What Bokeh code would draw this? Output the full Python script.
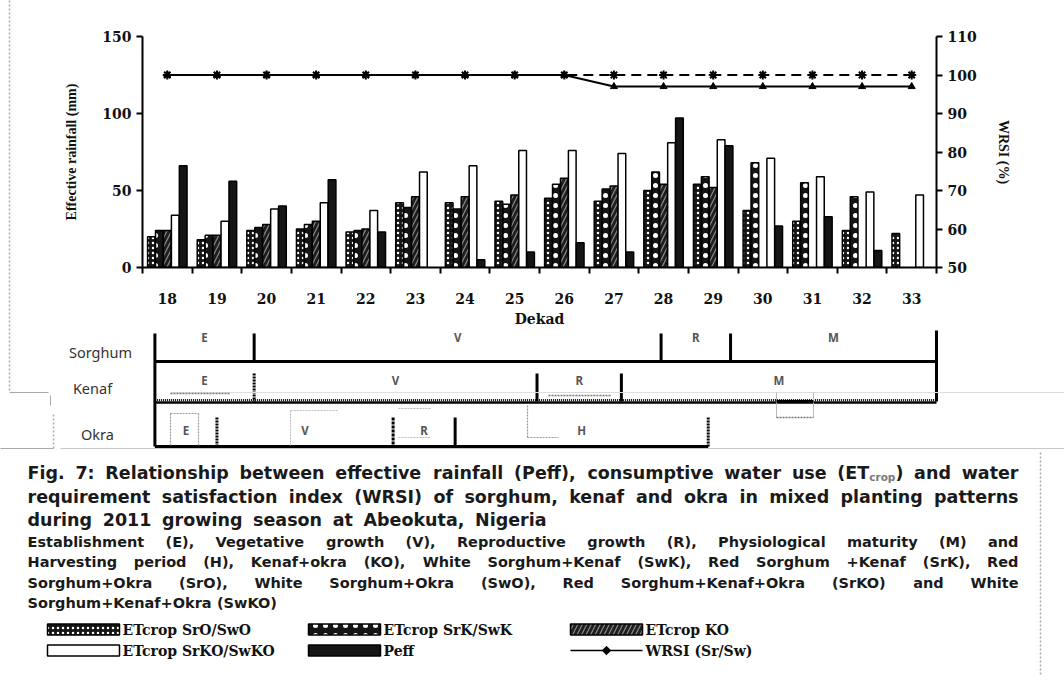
import numpy as np
from bokeh.plotting import figure
from bokeh.models import Range1d, LinearAxis, FixedTicker, ColumnDataSource
from bokeh.transform import dodge
from bokeh.embed import file_html
from bokeh.resources import INLINE
from bokeh.core.properties import value

# ---------------- data ----------------
dekads = [18, 19, 20, 21, 22, 23, 24, 25, 26, 27, 28, 29, 30, 31, 32, 33]
et_sro = [20, 18, 24, 25, 23, 42, 42, 43, 45, 43, 50, 54, 37, 30, 24, 22]
et_srk = [24, 21, 26, 28, 24, 39, 38, 41, 54, 51, 62, 59, 68, 55, 46, 0]
et_ko = [24, 21, 28, 30, 25, 46, 46, 47, 58, 53, 54, 52, 0, 0, 0, 0]
et_srko = [34, 30, 38, 42, 37, 62, 66, 76, 76, 74, 81, 83, 71, 59, 49, 47]
peff = [66, 56, 40, 57, 23, 0, 5, 10, 16, 10, 97, 79, 27, 33, 11, 0]
wrsi_sw = [100, 100, 100, 100, 100, 100, 100, 100, 100, 100, 100, 100, 100, 100, 100, 100]
wrsi_sr = [100, 100, 100, 100, 100, 100, 100, 100, 100, 97, 97, 97, 97, 97, 97, 97]
left_ticks = [0, 50, 100, 150]
right_ticks = [50, 60, 70, 80, 90, 100, 110]

sorghum_bounds = [17.75, 19.75, 27.95, 29.35, 33.5]
kenaf_bounds = [17.75, 19.75, 25.45, 27.15, 33.5]
okra_bounds = [17.75, 19.0, 22.55, 23.8, 28.9]
sorghum_stages = ["E", "V", "R", "M"]
kenaf_stages = ["E", "V", "R", "M"]
okra_stages = ["E", "V", "R", "H"]
crops = ["Sorghum", "Kenaf", "Okra"]

caption_main = [
    "Fig. 7: Relationship between effective rainfall (Peff), consumptive water use (ET_crop) and water",
    "requirement satisfaction index (WRSI) of sorghum, kenaf and okra in mixed planting patterns",
    "during 2011 growing season at Abeokuta, Nigeria",
]
caption_notes = [
    "Establishment (E), Vegetative growth (V), Reproductive growth (R), Physiological maturity (M) and",
    "Harvesting period (H), Kenaf+okra (KO), White Sorghum+Kenaf (SwK), Red Sorghum +Kenaf (SrK), Red",
    "Sorghum+Okra (SrO), White Sorghum+Okra (SwO), Red Sorghum+Kenaf+Okra (SrKO) and White",
    "Sorghum+Kenaf+Okra (SwKO)",
]
legend_labels = ["ETcrop SrO/SwO", "ETcrop SrK/SwK", "ETcrop KO",
                 "ETcrop SrKO/SwKO", "Peff", "WRSI (Sr/Sw)"]

# ---------------- figure ----------------
W, H = 1064, 681
L, R, T, B = 142, 936, 36, 267
OV = "overlay"

p = figure(width=W, height=H, x_range=Range1d(17.5, 33.5), y_range=Range1d(0, 150),
           output_backend="svg", toolbar_location=None,
           min_border_left=L, min_border_right=W - R, min_border_top=T, min_border_bottom=H - B)
p.outline_line_color = None
p.grid.visible = False
p.background_fill_color = "white"
p.border_fill_color = "white"
p.extra_y_ranges = {"wrsi": Range1d(50, 110), "py": Range1d(B, T)}
p.extra_x_ranges = {"px": Range1d(L, R)}

SERIF = "DejaVu Serif"
xa = p.xaxis[0]
xa.ticker = FixedTicker(ticks=dekads, minor_ticks=[d - 0.5 for d in dekads] + [dekads[-1] + 0.5])
xa.major_tick_out = 0
xa.major_tick_in = 0
xa.minor_tick_out = 6
xa.minor_tick_in = 0
xa.minor_tick_line_width = 2
xa.minor_tick_line_color = "black"
xa.axis_line_width = 2
xa.major_label_standoff = 19
xa.major_label_text_font = SERIF
xa.major_label_text_font_style = "bold"
xa.major_label_text_font_size = "14px"
xa.major_label_text_color = "#111"
xa.axis_label = "Dekad"
xa.axis_label_standoff = 4
xa.axis_label_text_font = SERIF
xa.axis_label_text_font_style = "bold"
xa.axis_label_text_font_size = "14px"
xa.axis_label_text_color = "#111"

ya = p.yaxis[0]
ya.ticker = FixedTicker(ticks=left_ticks)
ya.major_tick_out = 6
ya.major_tick_in = 0
ya.major_tick_line_width = 2
ya.minor_tick_out = 0
ya.minor_tick_in = 0
ya.axis_line_width = 2
ya.major_label_standoff = 5
ya.major_label_text_font = SERIF
ya.major_label_text_font_style = "bold"
ya.major_label_text_font_size = "14px"
ya.major_label_text_color = "#111"
ya.axis_label = "Effective rainfall (mm)"
ya.axis_label_standoff = 20
ya.axis_label_text_font = "Liberation Serif"
ya.axis_label_text_font_style = "bold"
ya.axis_label_text_font_size = "14px"
ya.axis_label_text_color = "#111"

ra = LinearAxis(y_range_name="wrsi", ticker=FixedTicker(ticks=right_ticks))
ra.major_tick_out = 6
ra.major_tick_in = 0
ra.major_tick_line_width = 2
ra.minor_tick_out = 0
ra.minor_tick_in = 0
ra.axis_line_width = 2
ra.major_label_standoff = 5
ra.major_label_text_font = SERIF
ra.major_label_text_font_style = "bold"
ra.major_label_text_font_size = "14px"
ra.major_label_text_color = "#111"
ra.axis_label = "WRSI (%)"
ra.axis_label_standoff = 16
ra.axis_label_text_font = "Liberation Serif"
ra.axis_label_text_font_style = "bold"
ra.axis_label_text_font_size = "14px"
ra.axis_label_text_color = "#111"
p.add_layout(ra, "right")

# ---------------- bars ----------------
bar_w = 0.155
styles = {
    "sro": dict(fill_color="#151515", hatch_pattern="dot", hatch_color="white",
                hatch_scale=5, hatch_weight=1),
    "srk": dict(fill_color="#151515", hatch_pattern="dot", hatch_color="white",
                hatch_scale=10, hatch_weight=3.5),
    "ko": dict(fill_color="#1e1e1e", hatch_pattern="right_diagonal_line", hatch_color="#8a8a8a",
               hatch_scale=9, hatch_weight=1.2),
    "srko": dict(fill_color="white"),
    "peff": dict(fill_color="#151515"),
}
series = [("sro", et_sro, -0.32), ("srk", et_srk, -0.16), ("ko", et_ko, 0.0),
          ("srko", et_srko, 0.16), ("peff", peff, 0.32)]
for key, vals, off in series:
    d = [dk for dk, v in zip(dekads, vals) if v > 0]
    v = [v for v in vals if v > 0]
    src = ColumnDataSource(dict(dekad=d, top=v))
    p.vbar(x=dodge("dekad", off, range=p.x_range), top="top", bottom=0, width=bar_w,
           source=src, line_color="black", line_width=1.5, **styles[key])

# ---------------- WRSI lines ----------------
p.line(dekads, wrsi_sw, y_range_name="wrsi", line_color="black", line_width=2, line_dash="10 6")
p.scatter(dekads, wrsi_sw, y_range_name="wrsi", marker="asterisk", size=9,
          line_color="black", line_width=2)
p.line(dekads, wrsi_sr, y_range_name="wrsi", line_color="black", line_width=2)
p.scatter(dekads, wrsi_sr, y_range_name="wrsi", marker="triangle", size=7,
          fill_color="black", line_color="black")

# ---------------- crop stage diagram ----------------
def seg(x0, y0, x1, y1, xr="default", **kw):
    kw.setdefault("line_color", "black")
    kw.setdefault("line_width", 3)
    p.segment(x0=x0, y0=y0, x1=x1, y1=y1, x_range_name=xr, y_range_name="py", level=OV, **kw)

rows_y = {"Sorghum": 361, "Kenaf": 401, "Okra": 446}
# sorghum
sb = sorghum_bounds
seg([sb[0]], [rows_y["Sorghum"]], [sb[-1]], [rows_y["Sorghum"]])
seg(sb[1:-1], [333] * (len(sb) - 2), sb[1:-1], [rows_y["Sorghum"]] * (len(sb) - 2))
seg([sb[0]], [333], [sb[0]], [rows_y["Okra"]])
seg([sb[-1]], [330], [sb[-1]], [rows_y["Kenaf"]])
# kenaf (thick textured line)
kb = kenaf_bounds
seg([kb[0]], [rows_y["Kenaf"] + 1], [kb[-1]], [rows_y["Kenaf"] + 1], line_width=2.5)
seg([kb[0]], [rows_y["Kenaf"] - 1.5], [kb[-1]], [rows_y["Kenaf"] - 1.5], line_dash="1 1",
    line_width=2)
seg([kb[1]], [373], [kb[1]], [rows_y["Kenaf"]], line_dash="2 1")
seg(kb[2:-1], [373] * (len(kb) - 3), kb[2:-1], [rows_y["Kenaf"]] * (len(kb) - 3))
# okra
ob = okra_bounds
seg([ob[0]], [rows_y["Okra"]], [ob[-1]], [rows_y["Okra"]])
okra_dash = ["2 1", "3 1", "solid", "2 1"]
for xb, dash in zip(ob[1:], okra_dash):
    seg([xb], [417], [xb], [rows_y["Okra"]], line_dash=dash)

# stage labels
stage_font = value("Noto Sans")
for bounds, stages, ly in [(sorghum_bounds, sorghum_stages, 337),
                           (kenaf_bounds, kenaf_stages, 380),
                           (okra_bounds, okra_stages, 430)]:
    b = np.array(bounds)
    mids = (b[:-1] + b[1:]) / 2
    p.text(x=list(mids), y=[ly] * len(stages), text=stages, y_range_name="py", level=OV,
           text_font=stage_font, text_font_size="11.5px", text_font_style="bold",
           text_color="#555", text_align="center", text_baseline="middle")

p.text(x=[100, 92, 97], y=[351, 387, 433], text=crops, x_range_name="px", y_range_name="py",
       level=OV, text_font=value("Noto Sans"), text_font_size="14.5px",
       text_color="#333", text_align="center", text_baseline="middle")

# faint box/frame traces from the scanned page
GR = "#a8a8a8"
seg([9], [0], [9], [392], xr="px", line_color=GR, line_width=1.5, line_dash="2 2")
seg([9], [392], [48], [392], xr="px", line_color=GR, line_width=1)
seg([50], [395], [50], [405], xr="px", line_color=GR, line_width=1)
seg([53], [414], [53], [448], xr="px", line_color=GR, line_width=1.5, line_dash="2 2")
seg([0], [448], [53], [448], xr="px", line_color=GR, line_width=1)
seg([60], [448], [1064], [448], xr="px", line_color="#c8c8c8", line_width=1)
seg([170], [392], [1064], [392], xr="px", line_color="#dcdcdc", line_width=1)
seg([1040], [452], [1040], [676], xr="px", line_color=GR, line_width=1.5, line_dash="2 2")
# dotted text-box edges in the stage rows
seg([170, 548], [393, 395], [230, 610], [393, 395], xr="px", line_color="#777",
    line_width=1.5, line_dash="2 1")
seg([776, 813], [392, 392], [776, 813], [417, 417], xr="px", line_color="#bbb", line_width=1)
seg([776], [417], [813], [417], xr="px", line_color="#777", line_width=1.5, line_dash="2 1")
seg([776], [401], [813], [401], xr="px", line_width=3)
seg([170, 170, 198], [413, 413, 413], [198, 170, 198], [413, 445, 445], xr="px",
    line_color="#999", line_width=1.2, line_dash="2 1")
seg([290, 290], [410, 410], [337, 290], [410, 445], xr="px", line_color="#bbb",
    line_width=1, line_dash="2 1")
seg([398, 398], [408, 437], [430, 430], [408, 437], xr="px", line_color="#bbb",
    line_width=1, line_dash="2 1")
seg([527, 527], [405, 437], [527, 558], [437, 437], xr="px", line_color="#999",
    line_width=1.2, line_dash="2 1")

# ---------------- caption ----------------
EM = {}
for c, w in zip("abcdefghijklmnopqrstuvwxyz",
                [.675, .716, .593, .716, .678, .435, .716, .712, .343, .343, .665, .343, 1.042,
                 .712, .687, .716, .716, .493, .595, .478, .712, .652, .924, .645, .652, .582]):
    EM[c] = w
for c, w in zip("ABCDEFGHIJKLMNOPQRSTUVWXYZ",
                [.774, .762, .734, .830, .683, .683, .821, .837, .372, .372, .775, .637, .995,
                 .837, .850, .733, .850, .770, .720, .682, .812, .774, 1.103, .771, .724, .725]):
    EM[c] = w
for c in "0123456789":
    EM[c] = .696
EM.update({" ": .348, ".": .38, ",": .38, ":": .40, "(": .457, ")": .457, "+": .838,
           "/": .365, "-": .415})


def tw(s):
    return sum(EM.get(c, .62) for c in s)


SUB = 0.6
cap = dict(x=[], y=[], text=[], size=[], color=[])


def add_piece(x, y, t, size, color="#1a1a1a"):
    cap["x"].append(x)
    cap["y"].append(y)
    cap["text"].append(t)
    cap["size"].append(f"{size:.1f}px")
    cap["color"].append(color)


def word_pieces(word, size):
    if "_" in word:
        pre, rest = word.split("_")
        sub = rest.rstrip(")")
        post = rest[len(sub):]
        return [(pre, size, 0, "#1a1a1a"), (sub, size * SUB, 4, "#777"), (post, size, 0, "#1a1a1a")]
    return [(word, size, 0, "#1a1a1a")]


def place_line(line, y, size, x_left, x_right=None):
    words = line.split()
    pieces = [word_pieces(w, size) for w in words]
    widths = [sum(tw(t) * s for t, s, _, _ in pc) for pc in pieces]
    if x_right is None:
        gap = tw(" ") * size
    else:
        gap = (x_right - x_left - sum(widths)) / max(len(words) - 1, 1)
    x = x_left
    for pc, wd in zip(pieces, widths):
        xx = x
        for t, s, dy, col in pc:
            add_piece(xx, y + dy, t, s, col)
            xx += tw(t) * s
        x += wd + gap


X0 = 27
main_y = [472, 496, 519]
main_right = [1018, 1018, 546]
for line, y, xr in zip(caption_main, main_y, main_right):
    place_line(line, y, 17.5, X0, xr)
notes_y = [541, 561, 582, 602]
notes_right = [1018, 1018, 1018, None]
for line, y, xr in zip(caption_notes, notes_y, notes_right):
    place_line(line, y, 14.5, X0, xr)

p.text(x="x", y="y", text="text", source=ColumnDataSource(cap), x_range_name="px",
       y_range_name="py", level=OV, text_font=value("DejaVu Sans"), text_font_style="bold",
       text_font_size="size", text_color="color", text_align="left", text_baseline="middle")

# ---------------- legend ----------------
col_x = [47, 308, 570]
row_y = [629, 650]
sw_w, sw_h = 72, 11
leg_keys = ["sro", "srk", "ko", "srko", "peff", "wrsi"]
for i, (key, lab) in enumerate(zip(leg_keys, legend_labels)):
    cx = col_x[i % 3]
    cy = row_y[i // 3]
    if key == "wrsi":
        seg([cx], [cy], [cx + sw_w], [cy], xr="px", line_width=1.5)
        p.rect(x=[cx + sw_w / 2], y=[cy], width=6, height=6, angle=np.pi / 4,
               width_units="screen", height_units="screen", fill_color="black",
               line_color="black", x_range_name="px", y_range_name="py", level=OV)
    else:
        p.rect(x=[cx + sw_w / 2], y=[cy], width=sw_w, height=sw_h, width_units="screen",
               height_units="screen", x_range_name="px", y_range_name="py", level=OV,
               line_color="black", line_width=1.5, **styles[key])
    p.text(x=[cx + sw_w + 3], y=[cy], text=[lab], x_range_name="px", y_range_name="py",
           level=OV, text_font=value(SERIF), text_font_style="bold", text_font_size="14px",
           text_color="#111", text_align="left", text_baseline="middle")

open("out.html", "w").write(file_html(p, INLINE))
